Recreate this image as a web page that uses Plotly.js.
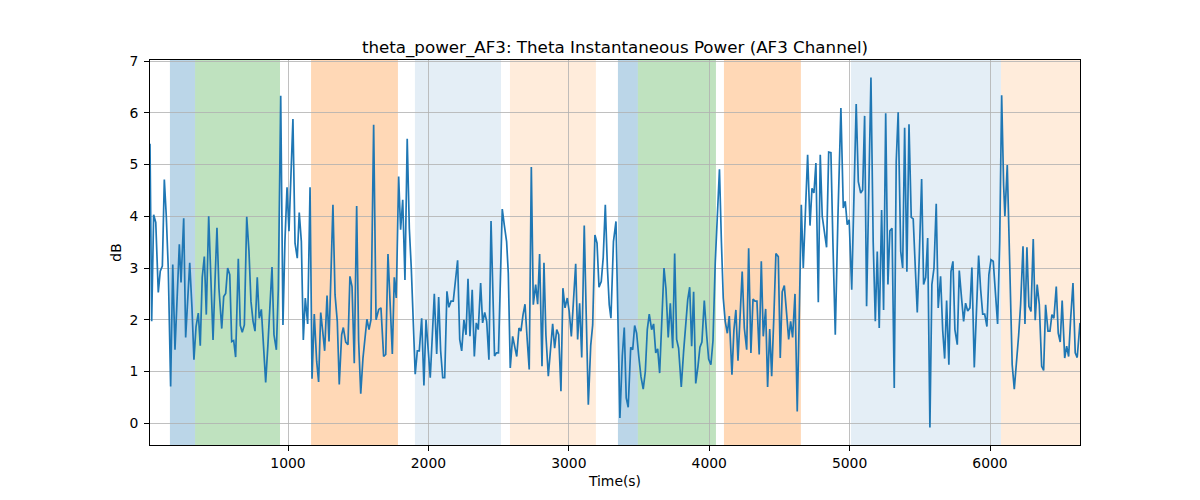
<!DOCTYPE html>
<html>
<head>
<meta charset="utf-8">
<script src="https://cdn.plot.ly/plotly-3.0.1.min.js"></script>
<style>html,body{margin:0;padding:0;background:#fff;}#chart{width:1200px;height:500px;}</style>
</head>
<body>
<div id="chart"></div>
<script>
// Time (s) of each sample
const timeS = [
  17,29,43,58,76,90,105,119,133,147,
  164,179,195,211,226,238,257,271,286,300,
  316,330,345,361,375,389,404,418,435,449,
  466,480,494,508,528,542,556,570,585,599,
  613,627,646,660,674,689,706,722,736,751,
  765,781,795,810,841,857,872,886,900,917,
  931,948,964,978,993,1007,1035,1050,1066,1080,
  1095,1109,1123,1140,1157,1171,1187,1204,1218,1233,
  1247,1261,1278,1292,1320,1335,1351,1365,1382,1394,
  1411,1427,1441,1456,1472,1489,1503,1518,1534,1548,
  1562,1577,1591,1610,1627,1646,1662,1681,1696,1712,
  1726,1743,1757,1771,1788,1802,1817,1833,1849,1864,
  1878,1892,1906,1921,1935,1952,1968,1983,1999,2013,
  2028,2042,2059,2073,2087,2102,2116,2132,2146,2161,
  2177,2191,2208,2223,2237,2253,2268,2282,2296,2312,
  2327,2341,2355,2372,2386,2401,2415,2431,2446,2471,
  2485,2499,2513,2526,2540,2557,2569,2583,2600,2614,
  2629,2645,2659,2674,2688,2704,2718,2733,2747,2764,
  2778,2792,2809,2823,2837,2854,2868,2885,2899,2914,
  2928,2944,2958,2973,2989,3003,3018,3032,3049,3063,
  3077,3092,3110,3124,3139,3156,3170,3186,3201,3215,
  3231,3245,3260,3275,3288,3300,3318,3336,3348,3364,
  3381,3395,3409,3423,3441,3455,3469,3483,3498,3514,
  3530,3545,3559,3573,3590,3604,3619,3633,3647,3663,
  3678,3692,3708,3723,3740,3754,3768,3782,3801,3818,
  3832,3847,3861,3875,3889,3904,3920,3934,3948,3965,
  3982,3996,4012,4027,4043,4059,4073,4087,4100,4114,
  4129,4143,4162,4176,4190,4205,4219,4235,4250,4267,
  4281,4297,4312,4326,4340,4356,4371,4385,4402,4416,
  4431,4445,4461,4475,4492,4506,4520,4535,4552,4566,
  4580,4594,4611,4627,4641,4656,4670,4687,4701,4718,
  4732,4746,4760,4777,4791,4805,4822,4836,4851,4867,
  4881,4898,4917,4938,4955,4969,4983,4997,5015,5031,
  5047,5062,5079,5093,5107,5121,5138,5152,5168,5183,
  5197,5211,5228,5242,5257,5273,5287,5302,5318,5332,
  5346,5364,5378,5392,5408,5423,5439,5453,5468,5482,
  5496,5513,5527,5542,5556,5572,5586,5601,5617,5631,
  5648,5663,5677,5691,5707,5722,5736,5750,5767,5781,
  5798,5812,5826,5841,5857,5871,5888,5902,5919,5933,
  5948,5962,5978,5992,6007,6023,6037,6054,6069,6083,
  6097,6106,6123,6140,6158,6173,6190,6204,6218,6235,
  6249,6263,6277,6292,6308,6322,6336,6351,6368,6382,
  6396,6413,6427,6441,6455,6472,6486,6500,6514,6532,
  6546,6560,6574,6591,6607,6621,6641
];

// Theta instantaneous power (dB)
const powerDb = [
  5.4,1.97,4.03,3.88,2.53,2.94,3.04,4.71,4.0,3.0,
  0.71,3.07,1.42,2.4,3.46,2.72,3.96,1.66,2.5,3.1,
  2.23,1.23,1.87,2.13,1.5,2.82,3.22,2.1,4.0,3.06,
  1.61,2.74,3.78,2.61,1.83,2.45,2.51,3.0,2.87,1.58,
  1.6,1.28,3.18,1.89,1.76,1.9,3.99,3.32,2.36,1.97,
  1.78,2.82,2.03,2.2,0.79,1.52,2.29,3.02,1.71,1.42,
  2.6,6.33,1.9,3.51,4.56,3.71,5.88,3.48,3.19,4.07,
  3.51,1.61,2.42,1.92,4.56,0.86,2.11,1.2,0.8,2.14,
  1.78,1.4,2.47,1.58,4.22,2.48,1.97,0.75,1.71,1.85,
  1.57,1.52,2.84,2.64,1.16,4.2,1.6,0.57,1.26,1.6,
  2.01,1.81,2.0,5.77,2.0,2.2,2.23,1.29,1.33,3.27,
  2.3,1.34,2.82,2.42,4.77,3.74,4.32,2.77,5.5,3.77,
  3.0,2.0,0.95,1.4,1.4,2.03,0.73,2.0,1.4,0.88,
  1.7,2.5,1.34,2.44,1.4,0.88,0.88,2.55,2.24,2.36,
  2.36,2.74,3.15,1.62,1.4,2.0,1.71,2.79,1.68,2.58,
  1.29,1.94,1.81,2.71,1.94,2.14,1.97,1.23,3.91,1.3,
  1.36,1.36,2.9,4.14,3.84,3.51,2.9,1.07,1.68,1.45,
  1.29,1.84,1.78,2.1,2.3,1.6,1.04,4.95,2.29,2.68,
  2.3,3.27,1.1,3.1,1.7,0.91,1.4,1.92,1.45,1.81,
  1.71,0.62,2.61,2.23,2.42,2.16,1.68,2.3,3.08,1.62,
  2.32,1.27,3.82,2.1,0.36,1.5,1.9,3.64,3.48,2.63,
  2.74,3.2,4.22,3.0,2.29,2.03,3.51,3.9,2.5,0.1,
  1.3,1.85,0.49,0.31,1.47,1.42,1.89,1.74,1.3,0.9,
  0.66,1.0,1.81,2.11,1.81,1.92,1.36,1.44,0.97,2.2,
  3.0,2.6,1.66,2.32,1.45,3.28,1.62,1.45,0.7,1.4,
  1.9,2.39,2.63,1.49,2.54,0.77,1.1,1.47,1.57,2.37,
  1.7,1.24,1.13,1.6,3.1,4.0,4.91,3.5,2.42,1.97,
  1.74,2.07,0.94,1.8,2.19,1.21,2.0,2.93,1.84,1.42,
  3.38,1.36,2.4,2.36,2.36,1.33,3.13,1.68,2.21,0.7,
  1.82,0.91,2.1,3.28,3.22,1.26,2.54,2.66,2.1,1.62,
  1.97,1.66,2.5,0.23,2.0,4.22,3.0,4.2,5.19,3.82,
  4.54,4.45,5.03,2.34,5.19,4.0,3.7,3.4,5.24,5.23,
  3.5,1.71,4.0,6.09,4.16,4.29,3.84,3.93,2.58,4.3,
  6.17,4.67,4.45,4.51,5.94,2.26,4.5,6.68,3.5,1.97,
  3.32,1.84,4.12,2.19,5.99,2.68,3.72,3.77,0.68,5.06,
  6.01,3.32,3.0,5.71,2.93,5.78,3.98,3.95,3.0,2.14,
  3.2,4.72,2.68,2.82,3.58,-0.08,2.68,3.0,4.24,2.23,
  2.84,1.8,1.25,2.37,1.13,2.93,3.13,1.81,1.52,2.95,
  2.4,1.97,2.32,2.17,2.23,3.01,1.08,2.1,3.24,2.6,
  2.11,2.11,1.87,2.87,3.16,3.13,2.5,1.92,3.5,6.34,
  4.6,4.0,4.99,3.2,1.13,0.66,1.2,1.7,2.29,3.42,
  1.92,3.4,2.26,2.16,3.56,1.99,2.68,2.3,1.1,1.02,
  2.29,1.78,1.78,2.1,2.03,2.64,1.74,1.57,2.37,1.26,
  1.49,1.29,2.0,2.71,1.36,1.27,1.94
];

// Shaded segments (time spans) and their kind
const segStart = [159, 338, 1164, 1904, 2581, 3350, 3492, 4105, 5010, 6078];
const segEnd   = [338, 943, 1783, 2517, 3193, 3492, 4048, 4653, 6078, 6700];
const segKind  = ['blue', 'green', 'orange', 'lightblue', 'lightorange',
                  'blue', 'green', 'orange', 'lightblue', 'lightorange'];

const xTicks = [1000, 2000, 3000, 4000, 5000, 6000];
const yTicks = [0, 1, 2, 3, 4, 5, 6, 7];

const kindColor = {
  blue: 'rgba(31,119,180,0.3)',
  green: 'rgba(44,160,44,0.3)',
  orange: 'rgba(255,127,14,0.3)',
  lightblue: 'rgba(31,119,180,0.12)',
  lightorange: 'rgba(255,127,14,0.15)'
};

const shapes = segStart.map((s, i) => ({
  type: 'rect', xref: 'x', yref: 'paper',
  x0: s, x1: segEnd[i], y0: 0, y1: 1,
  fillcolor: kindColor[segKind[i]], line: {width: 0}, layer: 'below'
}));

const font = 'DejaVu Sans, Verdana, sans-serif';

const trace = {
  x: timeS, y: powerDb, type: 'scatter', mode: 'lines',
  line: {color: '#1f77b4', width: 1.7}, hoverinfo: 'skip'
};

const axisCommon = {
  showgrid: true, gridcolor: '#b0b0b0', gridwidth: 0.8,
  showline: true, linecolor: '#000', linewidth: 1, mirror: true,
  ticks: 'outside', ticklen: 5, tickwidth: 1, tickcolor: '#000',
  zeroline: false, tickfont: {family: font, size: 13.9, color: '#000'}
};

const layout = {
  width: 1200, height: 500,
  margin: {l: 150, r: 120, t: 60, b: 55, pad: 0},
  paper_bgcolor: '#fff', plot_bgcolor: 'rgba(0,0,0,0)',
  showlegend: false,
  title: {
    text: 'theta_power_AF3: Theta Instantaneous Power (AF3 Channel)',
    font: {family: font, size: 16.7, color: '#000'},
    x: 0.5, xref: 'paper', xanchor: 'center',
    y: 1 - 47 / 500, yref: 'container', yanchor: 'middle'
  },
  xaxis: Object.assign({}, axisCommon, {
    range: [17, 6641], tickvals: xTicks, ticktext: xTicks.map(String),
    title: {text: 'Time(s)', font: {family: font, size: 13.9, color: '#000'}, standoff: 6}
  }),
  yaxis: Object.assign({}, axisCommon, {
    range: [-0.42, 7.02], tickvals: yTicks, ticktext: yTicks.map(String),
    ticklabelstandoff: 3,
    title: {text: 'dB', font: {family: font, size: 13.9, color: '#000'}, standoff: 4}
  }),
  shapes: shapes
};

Plotly.newPlot('chart', [trace], layout, {staticPlot: true, displayModeBar: false});
</script>
</body>
</html>
